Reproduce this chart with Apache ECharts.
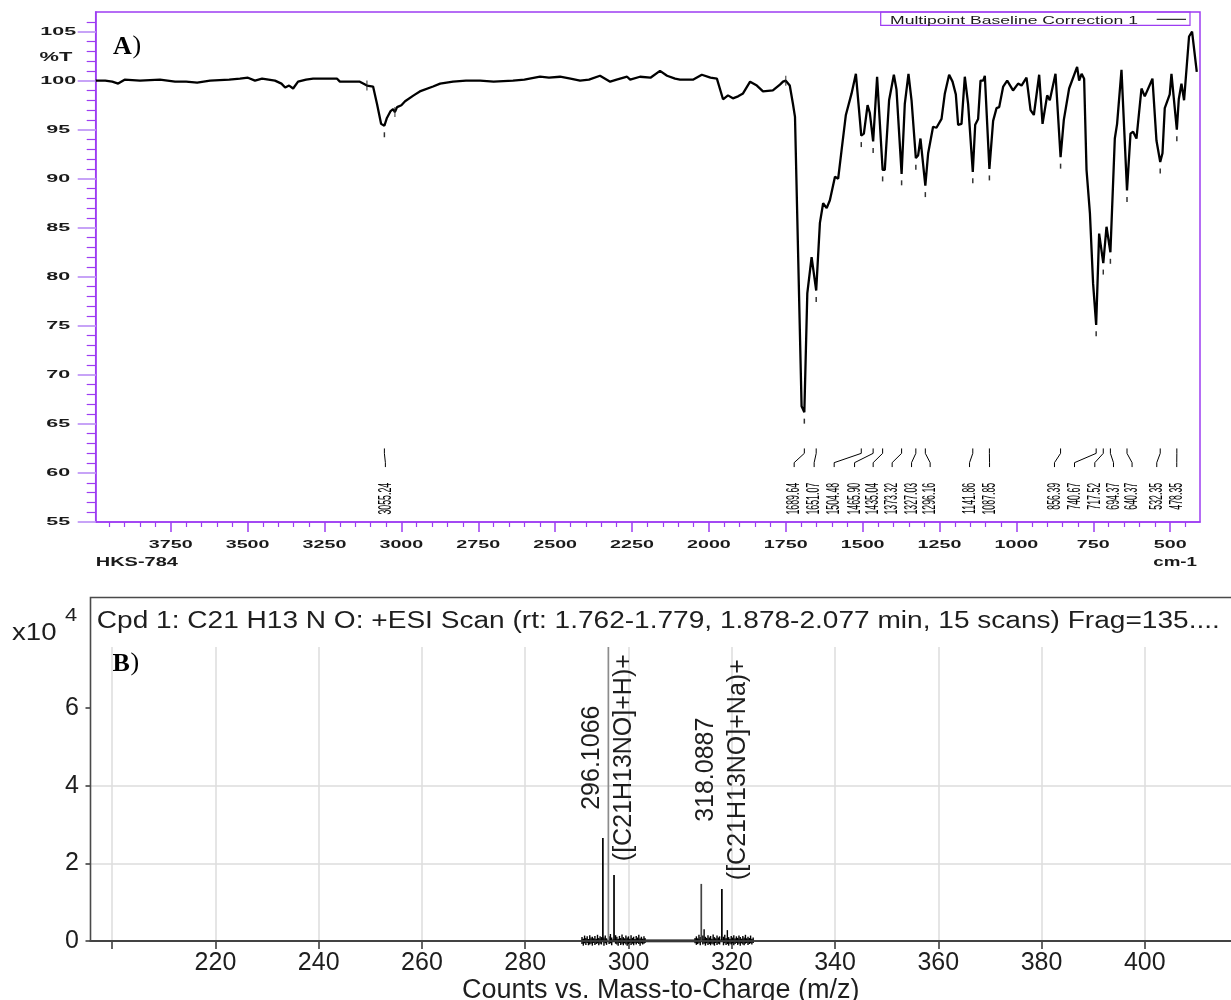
<!DOCTYPE html>
<html>
<head>
<meta charset="utf-8">
<script src="https://cdn.jsdelivr.net/npm/echarts@6/dist/echarts.min.js"></script>
<style>html,body{margin:0;padding:0;background:#fff}#c{width:1231px;height:1000px}</style>
</head>
<body>
<div id="c"></div>
<script>
// ================= Panel A: FT-IR spectrum (wavenumber cm-1 , %T) =================
const irSpectrum = [
[3994,100.0],[3963,100.0],[3940,99.9],[3921,99.7],[3900,100.1],[3850,100.0],[3785,100.1],[3736,99.9],[3700,99.9],[3664,99.8],
[3622,100.0],[3560,100.1],[3525,100.2],[3499,100.3],[3476,100.0],[3453,100.2],[3411,100.0],[3390,99.7],[3378,99.3],[3365,99.5],
[3352,99.2],[3336,99.9],[3310,100.1],[3287,100.2],[3209,100.2],[3200,99.9],[3135,99.9],[3112,99.5],[3092,99.4],[3079,97.6],
[3066,95.6],[3055.24,95.4],[3047,96.2],[3035,96.9],[3027,97.1],[3021,96.8],[3014,97.3],[3000,97.5],[2988,97.9],[2960,98.5],
[2940,98.9],[2897,99.4],[2874,99.7],[2832,99.9],[2790,100.0],[2744,100.0],[2700,99.9],[2637,100.0],[2600,100.1],[2549,100.4],
[2520,100.3],[2484,100.4],[2450,100.2],[2419,100.0],[2390,100.1],[2354,100.5],[2321,99.9],[2300,100.1],[2266,100.4],[2256,100.1],
[2224,100.4],[2190,100.3],[2159,101.0],[2136,100.5],[2110,100.2],[2094,100.1],[2052,100.1],[2023,100.6],[1995,100.3],[1974,100.2],
[1954,98.1],[1938,98.5],[1922,98.2],[1905,98.4],[1889,98.7],[1866,99.9],[1844,99.5],[1824,98.9],[1792,99.0],[1769,99.6],
[1759,99.9],[1750,100.0],[1737,99.5],[1727,97.7],[1720,96.3],[1698.6,66.8],[1689.64,66.2],[1680,78.3],[1666,82.0],[1651.07,78.6],
[1639,85.5],[1628.5,87.5],[1617,87.0],[1606.6,87.8],[1590,90.2],[1579.6,90.0],[1568.6,92.9],[1554.6,96.5],[1536,98.7],[1522,100.7],
[1504.48,94.4],[1496,94.6],[1484,97.5],[1476.6,96.7],[1465.9,93.8],[1453,100.4],[1435.04,90.9],[1428,90.9],[1414,98.0],[1398.5,100.6],
[1390,99.1],[1373.32,90.5],[1363,97.6],[1351,100.7],[1341,98.0],[1327.03,92.1],[1319.5,92.4],[1312,94.1],[1296.16,89.3],[1287,92.6],
[1271,95.3],[1260,95.2],[1243.5,96.1],[1232.7,98.7],[1218.8,100.6],[1207.7,99.9],[1197,98.6],[1189.5,95.5],[1178.5,95.6],[1167.8,100.4],
[1157,97.6],[1141.86,90.7],[1134,95.5],[1124.5,96.1],[1116.7,100.0],[1108,100.0],[1102.7,100.5],[1087.85,91.0],[1075.7,95.9],[1064.6,97.2],
[1056,97.3],[1043,99.4],[1030,100.0],[1011,99.0],[994.5,99.7],[983.4,99.5],[967.2,100.3],[954,97.0],[943.3,96.5],[926,100.6],
[915,95.6],[900,98.5],[891.4,98.0],[872.9,100.7],[856.39,92.2],[845.8,96.0],[828.6,99.2],[802.6,101.4],[796,100.0],[788,100.7],
[779.8,100.2],[772,90.9],[761,86.5],[750.6,79.3],[740.67,75.1],[731,84.4],[717.52,81.4],[707,85.1],[694.37,82.5],[680,94.1],
[672.6,95.6],[658.3,101.1],[640.37,88.8],[629,94.6],[620.5,94.8],[609.6,94.1],[593.3,99.2],[582.6,98.4],[557.6,100.2],[544.6,93.9],
[532.35,91.7],[525,92.6],[517.6,97.2],[501.4,98.6],[495.8,100.7],[478.35,95.0],[472,98.1],[463.3,99.7],[454.8,98.0],[438.6,104.5],
[428.8,105.0],[413.5,100.9]
];
const irPeakWavenumbers = [3055.24,1689.64,1651.07,1504.48,1465.90,1435.04,1373.32,1327.03,1296.16,1141.86,1087.85,856.39,740.67,717.52,694.37,640.37,532.35,478.35];
const irPeakTransmittance = [95.4,66.2,78.6,94.4,93.8,90.9,90.5,92.1,89.3,90.7,91.0,92.2,75.1,81.4,82.5,88.8,91.7,95.0];
const irPeakLabelAt = [3052,1722.7,1657.7,1592.6,1526.3,1465.8,1404.1,1341,1280.5,1152.4,1087.4,876.2,811.1,745.1,684.3,623.9,543.6,478.6];
const irRangeMarks = [[3112,99.5],[3021,96.8],[1750,100.0]];
const irXTickLabels = [3750,3500,3250,3000,2750,2500,2250,2000,1750,1500,1250,1000,750,500];
const irYTickLabels = [55,60,65,70,75,80,85,90,95,100,105];

// ================= Panel B: ESI mass spectrum (m/z , counts x10^4) =================
const msPeaks = [[295.04,2.65],[296.1066,7.57],[297.2,1.70],[314.1,1.47],[318.0887,1.34]];
// [m/z, excursion above baseline, excursion below baseline] of the baseline noise
const msNoise = [
[291.00,0.10,0.08],[291.25,0.06,0.12],[291.50,0.14,0.06],[291.75,0.08,0.10],[292.00,0.12,0.05],[292.25,0.05,0.11],
[292.50,0.15,0.09],[292.75,0.09,0.07],[293.00,0.11,0.12],[293.25,0.07,0.05],[293.50,0.13,0.10],[293.75,0.06,0.08],
[294.00,0.16,0.06],[294.25,0.08,0.11],[294.50,0.12,0.07],[294.75,0.10,0.09],[295.25,0.09,0.12],[295.50,0.14,0.06],
[295.75,0.07,0.10],[296.25,0.12,0.08],[296.50,0.18,0.06],[296.75,0.09,0.11],[297.50,0.15,0.07],[297.75,0.11,0.09],
[298.00,0.06,0.12],[298.25,0.13,0.05],[298.50,0.08,0.10],[298.75,0.17,0.07],[299.00,0.10,0.11],[299.25,0.07,0.06],
[299.50,0.14,0.09],[299.75,0.09,0.12],[300.00,0.12,0.08],[300.25,0.06,0.05],[300.50,0.15,0.10],[300.75,0.08,0.07],
[301.00,0.11,0.11],[301.25,0.05,0.06],[301.50,0.13,0.09],[301.75,0.09,0.05],[302.00,0.16,0.08],[302.25,0.07,0.12],
[302.50,0.11,0.06],[302.75,0.06,0.09],[303.00,0.12,0.07],[303.20,0.08,0.05],
[312.90,0.08,0.06],[313.15,0.12,0.10],[313.40,0.07,0.08],[313.65,0.16,0.06],[313.90,0.10,0.11],[314.40,0.14,0.09],
[314.65,0.30,0.07],[314.90,0.11,0.12],[315.15,0.08,0.06],[315.40,0.15,0.10],[315.65,0.09,0.08],[315.90,0.13,0.11],
[316.15,0.06,0.07],[316.40,0.17,0.09],[316.65,0.10,0.12],[316.90,0.07,0.05],[317.15,0.14,0.10],[317.40,0.09,0.07],
[317.65,0.12,0.09],[318.40,0.11,0.11],[318.65,0.16,0.06],[318.90,0.08,0.10],[319.15,0.28,0.08],[319.40,0.10,0.12],
[319.65,0.06,0.07],[319.90,0.13,0.09],[320.15,0.09,0.06],[320.40,0.15,0.11],[320.65,0.07,0.08],[320.90,0.12,0.05],
[321.15,0.08,0.10],[321.40,0.14,0.07],[321.65,0.10,0.12],[321.90,0.06,0.06],[322.15,0.13,0.09],[322.40,0.09,0.11],
[322.65,0.16,0.07],[322.90,0.07,0.05],[323.15,0.11,0.10],[323.40,0.08,0.08],[323.65,0.14,0.06],[323.90,0.06,0.09],
[324.15,0.09,0.05]
];
const msBaseline = [[290.9,0],[324.2,0]];
const msLabelMz = [296.1066,318.0887];
const msLabelY = [4.72,4.41];
const msLabelMass = ['296.1066','318.0887'];
const msLabelIon = ['([C21H13NO]+H)+','([C21H13NO]+Na)+'];
const msXTicks = [200,220,240,260,280,300,320,340,360,380,400];
const msXTickLabels = [220,240,260,280,300,320,340,360,380,400];
const msYTickLabels = [0,2,4,6];

// ================= styles =================
const PURPLE = '#9d3cf2';
const LAVENDER = '#c7a3f7';
const SANS = 'Liberation Sans, Arial, Helvetica, sans-serif';
const SERIF = 'Liberation Serif, Times New Roman, serif';
const stickColors = ['#000000','#8c8c8c','#000000','#444444','#000000'];

const irMinorX = [];
for (let w = 450; w <= 3950; w += 50) if (w % 250 !== 0) irMinorX.push(w);
const irMinorY = [];
for (let t = 56; t <= 106; t++) if (t % 5 !== 0) irMinorY.push(t);

function txt(style) {
  const s = Object.assign({fill:'#111', fontFamily:SANS}, style);
  if (s.align) s.textAlign = s.align;
  if (s.verticalAlign) s.textVerticalAlign = s.verticalAlign;
  return s;
}

const chart = echarts.init(document.getElementById('c'), null, {renderer:'canvas'});

const option = {
  animation: false,
  backgroundColor: '#ffffff',
  grid: [
    {left:95.7, top:12, width:1104.3, height:510, show:true, borderColor:PURPLE, borderWidth:1.5, backgroundColor:'transparent', outerBoundsMode:'none'},
    {left:90.5, top:647, width:1140.5, height:294, outerBoundsMode:'none'}
  ],
  xAxis: [
    {gridIndex:0, type:'value', position:'bottom', inverse:true, min:403, max:3994,
     axisLine:{show:true, lineStyle:{color:PURPLE, width:1.5}},
     axisTick:{show:true, customValues:irXTickLabels, length:10, lineStyle:{color:PURPLE, width:1.5}},
     axisLabel:{show:false}, splitLine:{show:false}},
    {gridIndex:0, type:'value', position:'bottom', inverse:true, min:403, max:3994,
     axisLine:{show:false},
     axisTick:{show:true, customValues:irMinorX, length:5, lineStyle:{color:PURPLE, width:1.2}},
     axisLabel:{show:false}, splitLine:{show:false}},
    {gridIndex:1, type:'value', position:'bottom', min:195.8, max:416.7,
     axisLine:{show:true, lineStyle:{color:'#333', width:2}},
     axisTick:{show:true, customValues:msXTicks, length:8, lineStyle:{color:'#333', width:1.5}},
     axisLabel:{show:true, customValues:msXTickLabels, fontSize:25, color:'#1e1e1e', margin:10, fontFamily:SANS},
     splitLine:{show:true, lineStyle:{color:'#dcdcdc', width:1.5}},
     name:'Counts vs. Mass-to-Charge (m/z)', nameLocation:'middle', nameGap:31,
     nameTextStyle:{fontSize:27, color:'#1e1e1e', fontFamily:SANS}}
  ],
  yAxis: [
    {gridIndex:0, type:'value', position:'left', min:55, max:107,
     axisLine:{show:true, lineStyle:{color:PURPLE, width:1.5}},
     axisTick:{show:true, customValues:irYTickLabels, length:18, lineStyle:{color:LAVENDER, width:2}},
     axisLabel:{show:false}, splitLine:{show:false}},
    {gridIndex:0, type:'value', position:'left', min:55, max:107,
     axisLine:{show:false},
     axisTick:{show:true, customValues:irMinorY, length:9, lineStyle:{color:PURPLE, width:1.2}},
     axisLabel:{show:false}, splitLine:{show:false}},
    {gridIndex:1, type:'value', position:'left', min:0, max:7.57,
     axisLine:{show:false},
     axisTick:{show:true, customValues:msYTickLabels, length:5, lineStyle:{color:'#333', width:1.5}},
     axisLabel:{show:true, customValues:msYTickLabels, fontSize:25, color:'#1e1e1e', margin:11.5, fontFamily:SANS},
     splitLine:{show:true, showMinLine:false, showMaxLine:false, lineStyle:{color:'#dcdcdc', width:1.5}}}
  ],
  series: [
    // IR spectrum trace
    {type:'line', xAxisIndex:0, yAxisIndex:0, data:irSpectrum, showSymbol:false, symbol:'none',
     lineStyle:{color:'#000', width:2.3}, clip:true, silent:true, z:5},
    // small peak-pick dashes under each labelled minimum
    {type:'scatter', xAxisIndex:0, yAxisIndex:0,
     data: irPeakWavenumbers.map((w,i)=>[w, irPeakTransmittance[i]]),
     symbol:'rect', symbolSize:[1.5,5], symbolOffset:[0,9], itemStyle:{color:'#000'}, silent:true, z:6},
    // range markers crossing the trace
    {type:'scatter', xAxisIndex:0, yAxisIndex:0, data:irRangeMarks,
     symbol:'rect', symbolSize:[1.2,10], itemStyle:{color:'#222'}, silent:true, z:6},
    // peak leader lines + rotated wavenumber labels
    {type:'custom', xAxisIndex:0, yAxisIndex:0, silent:true, z:6,
     data: irPeakWavenumbers.map((w,i)=>[w, irPeakTransmittance[i]]),
     renderItem: function(params, api) {
       const i = params.dataIndex;
       const pw = api.value(0), lw = irPeakLabelAt[i];
       const p0 = api.coord([pw, 62.5]), p1 = api.coord([pw, 62.0]);
       const p2 = api.coord([lw, 61.05]), p3 = api.coord([lw, 60.6]);
       const t = api.coord([lw, 59.0]);
       return {type:'group', children:[
         {type:'polyline', shape:{points:[p0,p1,p2,p3]}, style:{stroke:'#000', fill:'none', lineWidth:1}},
         {type:'text', x:t[0], y:t[1], rotation:Math.PI/2, scaleX:0.8, scaleY:1.75,
          style: txt({text: pw.toFixed(2), fontSize:11, fill:'#000', align:'right', verticalAlign:'middle'})}
       ]};
     }},
    // IR x tick labels (horizontally stretched as in the reference)
    {type:'custom', xAxisIndex:0, yAxisIndex:0, silent:true,
     data: irXTickLabels.map(v=>[v,55]),
     renderItem: function(params, api) {
       const c = api.coord([api.value(0), 55]);
       return {type:'text', x:c[0], y:c[1]+22.5, scaleX:1.7,
               style: txt({text:String(api.value(0)), fontSize:11.6, fontWeight:'bold', fill:'#1a1a1a', align:'center', verticalAlign:'middle'})};
     }},
    // IR y tick labels
    {type:'custom', xAxisIndex:0, yAxisIndex:0, silent:true,
     data: irYTickLabels.map(v=>[3994,v]),
     renderItem: function(params, api) {
       const c = api.coord([3994, api.value(1)]);
       return {type:'text', x:c[0]-37.5, y:c[1], scaleX:1.85,
               style: txt({text:String(api.value(1)), fontSize:11.6, fontWeight:'bold', fill:'#1a1a1a', align:'center', verticalAlign:'middle'})};
     }},
    // MS baseline segment
    {type:'line', xAxisIndex:2, yAxisIndex:2, data:msBaseline, showSymbol:false, symbol:'none',
     lineStyle:{color:'#000', width:3}, silent:true, z:4},
    // MS noise hairs
    {type:'custom', xAxisIndex:2, yAxisIndex:2, silent:true, z:4, data:msNoise,
     renderItem: function(params, api) {
       const up = api.coord([api.value(0), api.value(1)]);
       const lo = api.coord([api.value(0), -api.value(2)]);
       return {type:'line', shape:{x1:up[0], y1:lo[1], x2:up[0], y2:up[1]}, style:{stroke:'#000', lineWidth:1.4}};
     }},
    // MS peak sticks
    {type:'custom', xAxisIndex:2, yAxisIndex:2, silent:true, z:5, data:msPeaks,
     renderItem: function(params, api) {
       const a = api.coord([api.value(0), 0]), b = api.coord([api.value(0), api.value(1)]);
       return {type:'line', shape:{x1:a[0], y1:a[1], x2:b[0], y2:b[1]},
               style:{stroke:stickColors[params.dataIndex], lineWidth:1.7}};
     }},
    // MS peak annotations (rotated, two lines)
    {type:'custom', xAxisIndex:2, yAxisIndex:2, silent:true, z:6,
     data: msLabelMz.map((m,i)=>[m, msLabelY[i]]),
     renderItem: function(params, api) {
       const i = params.dataIndex;
       const c = api.coord([api.value(0), api.value(1)]);
       return {type:'text', x:c[0], y:c[1], rotation:Math.PI/2,
               style: txt({text: msLabelMass[i] + '\n' + msLabelIon[i], fontSize:25, lineHeight:32,
                           fill:'#1e1e1e', align:'center', verticalAlign:'middle'})};
     }}
  ],
  graphic: [
    // ----- Panel A decorations -----
    {type:'text', x:113, y:47, silent:true, style: txt({text:'A', fontFamily:SERIF, fontWeight:'bold', fontSize:26, fill:'#000', align:'left', verticalAlign:'middle'})},
    {type:'text', x:132.5, y:46, silent:true, style: txt({text:')', fontFamily:SERIF, fontSize:26, fill:'#000', align:'left', verticalAlign:'middle'})},
    {type:'text', x:56, y:57.5, scaleX:1.75, silent:true, style: txt({text:'%T', fontSize:12.5, fontWeight:'bold', fill:'#1a1a1a', align:'center', verticalAlign:'middle'})},
    {type:'text', x:95.7, y:562.5, scaleX:1.6, silent:true, style: txt({text:'HKS-784', fontSize:12.5, fontWeight:'bold', fill:'#1a1a1a', align:'left', verticalAlign:'middle'})},
    {type:'text', x:1197, y:562.5, scaleX:1.5, silent:true, style: txt({text:'cm-1', fontSize:12.5, fontWeight:'bold', fill:'#1a1a1a', align:'right', verticalAlign:'middle'})},
    {type:'rect', silent:true, shape:{x:880.7, y:12, width:309.3, height:13.3}, style:{fill:'none', stroke:PURPLE, lineWidth:1.2}},
    {type:'text', x:890, y:21.3, scaleX:1.57, silent:true, style: txt({text:'Multipoint Baseline Correction 1', fontSize:11.2, fill:'#1a1a1a', align:'left', verticalAlign:'middle'})},
    {type:'line', silent:true, shape:{x1:1156.7, y1:19.3, x2:1186, y2:19.3}, style:{stroke:'#000', lineWidth:1}},
    // ----- Panel B decorations -----
    {type:'rect', silent:true, z:10, shape:{x:90.5, y:597.5, width:1160, height:343.5}, style:{fill:'none', stroke:'#4a4a4a', lineWidth:1.6}},
    {type:'text', x:96.8, y:621.5, scaleX:1.22, silent:true, style: txt({text:'Cpd 1: C21 H13 N O: +ESI Scan (rt: 1.762-1.779, 1.878-2.077 min, 15 scans) Frag=135....', fontSize:23, fill:'#1e1e1e', align:'left', verticalAlign:'middle'})},
    {type:'text', x:112.6, y:664, silent:true, style: txt({text:'B', fontFamily:SERIF, fontWeight:'bold', fontSize:26, fill:'#000', align:'left', verticalAlign:'middle'})},
    {type:'text', x:130.5, y:663, silent:true, style: txt({text:')', fontFamily:SERIF, fontSize:26, fill:'#000', align:'left', verticalAlign:'middle'})},
    {type:'text', x:12, y:634, scaleX:1.2, silent:true, style: txt({text:'x10', fontSize:23, fill:'#1e1e1e', align:'left', verticalAlign:'middle'})},
    {type:'text', x:65, y:616, scaleX:1.15, silent:true, style: txt({text:'4', fontSize:19, fill:'#1e1e1e', align:'left', verticalAlign:'middle'})}
  ]
};
chart.setOption(option);
</script>
</body>
</html>
